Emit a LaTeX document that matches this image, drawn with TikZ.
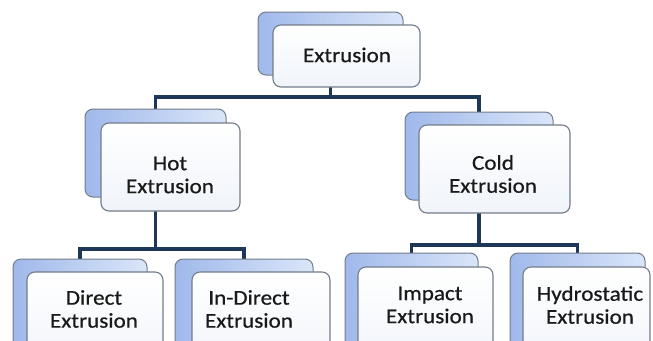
\documentclass[tikz,border=0pt]{standalone}
\usepackage{fontspec}
\setmainfont{Carlito}[FakeStretch=1.1,FakeBold=0.6]
\usetikzlibrary{backgrounds}
\definecolor{bkL}{RGB}{160,185,235}
\definecolor{bkR}{RGB}{218,230,249}
\definecolor{bordc}{RGB}{115,125,138}
\definecolor{frB}{RGB}{240,244,250}
\definecolor{connc}{RGB}{30,55,88}
\begin{document}
\begin{tikzpicture}[x=1pt,y=-1pt,
  backbox/.style={draw=bordc,line width=1pt,rounded corners=8pt,left color=bkL,right color=bkR,inner sep=0pt},
  frontbox/.style={draw=bordc,line width=1.1pt,rounded corners=8pt,top color=white,bottom color=frB,inner sep=0pt},
  lbl/.style={font=\fontsize{21}{23}\selectfont,text=black!90,align=center,inner sep=0pt},
  conn/.style={draw=connc,line width=3.2pt}]
\useasboundingbox (0,0) rectangle (653,340);
\clip (0,0) rectangle (653,340);
% top
\node[backbox,minimum width=145pt,minimum height=63pt] (extB) at (330.5,43.5) {};
\node[frontbox,minimum width=147pt,minimum height=62pt] (extF) at (346.5,56) {};
\node[lbl] (extT) at (347,55) {Extrusion};
% hot
\node[backbox,minimum width=141pt,minimum height=88pt] (hotB) at (155.5,153) {};
\node[frontbox,minimum width=139pt,minimum height=88pt] (hotF) at (170.5,167) {};
\node[lbl] (hotT) at (170,175) {Hot\\Extrusion};
% cold
\node[backbox,minimum width=148pt,minimum height=88pt] (coldB) at (479,156) {};
\node[frontbox,minimum width=151pt,minimum height=88pt] (coldF) at (494.5,169) {};
\node[lbl] (coldT) at (493,174) {Cold\\Extrusion};
% bottom
\node[backbox,minimum width=134pt,minimum height=101pt] (dirB) at (80,309.5) {};
\node[frontbox,minimum width=136pt,minimum height=98pt] (dirF) at (95,321) {};
\node[lbl] (dirT) at (94,309) {Direct\\Extrusion};
\node[backbox,minimum width=138pt,minimum height=101pt] (indB) at (244,309.5) {};
\node[frontbox,minimum width=138pt,minimum height=98pt] (indF) at (261,321) {};
\node[lbl] (indT) at (249,309) {In-Direct\\Extrusion};
\node[backbox,minimum width=133pt,minimum height=107pt] (impB) at (411.5,306.5) {};
\node[frontbox,minimum width=135pt,minimum height=103pt] (impF) at (425.5,318.5) {};
\node[lbl] (impT) at (430,305) {Impact\\Extrusion};
\node[backbox,minimum width=135pt,minimum height=107pt] (hydB) at (577.5,306.5) {};
\node[frontbox,minimum width=127pt,minimum height=103pt] (hydF) at (586.5,318.5) {};
\node[lbl] (hydT) at (590,305) {Hydrostatic\\Extrusion};
\begin{pgfonlayer}{background}
\fill[white] (0,0) rectangle (653,340);
\draw[conn] (extB.center) -- (extB.center |- 0,97);
\draw[conn] (hotB.north) -- (hotB.north |- 0,97) -- (coldB.north |- 0,97) -- (coldB.north);
\draw[conn] (hotB.center) -- (hotB.center |- 0,249);
\draw[conn] (dirB.north) -- (dirB.north |- 0,249) -- (indB.north |- 0,249) -- (indB.north);
\draw[conn] (coldB.center) -- (coldB.center |- 0,245);
\draw[conn] (impB.north) -- (impB.north |- 0,245) -- (hydB.north |- 0,245) -- (hydB.north);
\end{pgfonlayer}
\end{tikzpicture}
\end{document}
